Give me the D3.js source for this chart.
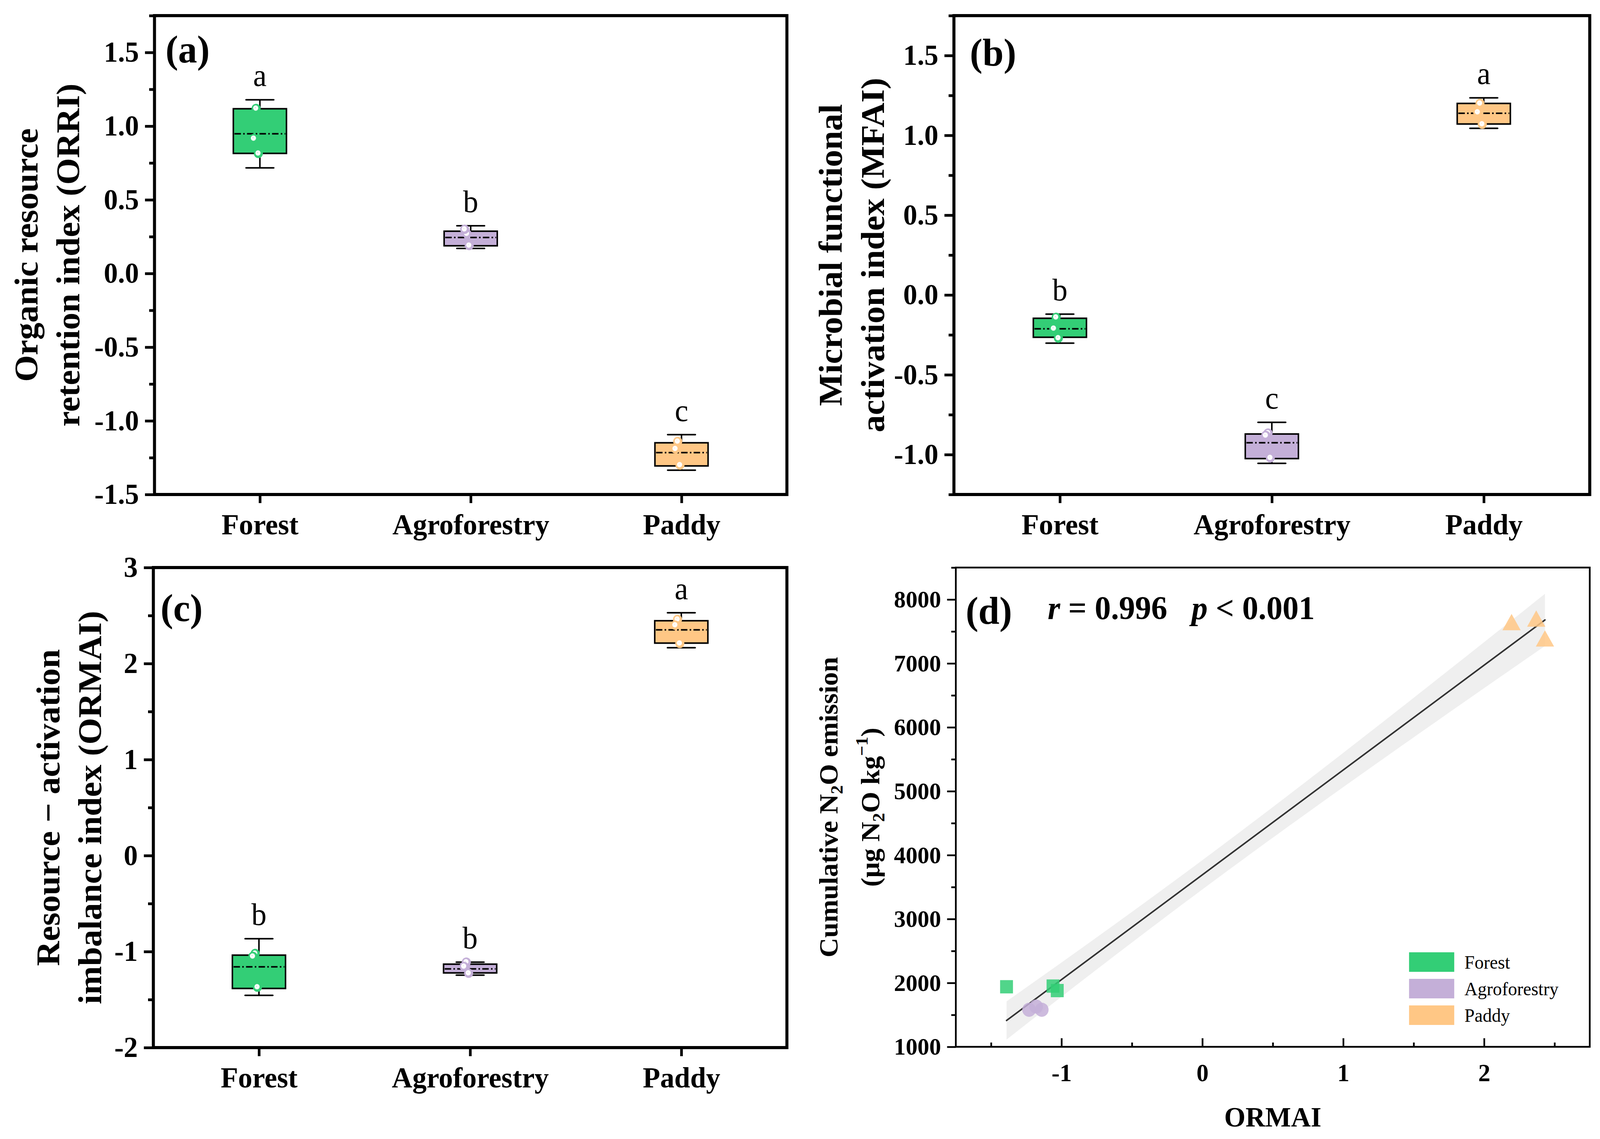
<!DOCTYPE html>
<html><head><meta charset="utf-8">
<script src="https://cdn.jsdelivr.net/npm/d3@7"></script>
<style>
html,body{margin:0;padding:0;background:#fff;overflow:hidden;width:100%;height:100%;}
svg{display:block;width:100vw;height:100vh;}
text{font-family:"Liberation Serif","Times New Roman",serif;}
</style>
</head><body>
<svg id="chart" viewBox="0 0 4215 2916" preserveAspectRatio="none"></svg>
<script>
// ---------------- DATA ----------------
const categories = ["Forest", "Agroforestry", "Paddy"];
const groupColors = ["#33CE76", "#C4AFD8", "#FFC785"];

// (a) Organic resource retention index (ORRI)
const orriWhiskerLow  = [0.717, 0.170, -1.335];
const orriQ1          = [0.815, 0.188, -1.306];
const orriCenter      = [0.948, 0.244, -1.216];
const orriQ3          = [1.118, 0.287, -1.149];
const orriWhiskerHigh = [1.179, 0.324, -1.094];
const orriPoints      = [[1.12, 0.916, 0.815], [0.27, 0.30, 0.19], [-1.14, -1.19, -1.30]];
const orriLetters     = ["a", "b", "c"];
const orriTicks       = [-1.5, -1.0, -0.5, 0.0, 0.5, 1.0, 1.5];
const orriTickLabels  = ["-1.5", "-1.0", "-0.5", "0.0", "0.5", "1.0", "1.5"];
const orriMinorTicks  = [-1.25, -0.75, -0.25, 0.25, 0.75, 1.25, 1.75];

// (b) Microbial functional activation index (MFAI)
const mfaiWhiskerLow  = [-0.302, -1.055, 1.044];
const mfaiQ1          = [-0.265, -1.025, 1.071];
const mfaiCenter      = [-0.212, -0.926, 1.138];
const mfaiQ3          = [-0.146, -0.871, 1.200];
const mfaiWhiskerHigh = [-0.120, -0.798, 1.235];
const mfaiPoints      = [[-0.14, -0.21, -0.27], [-0.865, -0.88, -1.02], [1.20, 1.145, 1.07]];
const mfaiLetters     = ["b", "c", "a"];
const mfaiTicks       = [-1.0, -0.5, 0.0, 0.5, 1.0, 1.5];
const mfaiTickLabels  = ["-1.0", "-0.5", "0.0", "0.5", "1.0", "1.5"];
const mfaiMinorTicks  = [-1.25, -0.75, -0.25, 0.25, 0.75, 1.25, 1.75];

// (c) Resource - activation imbalance index (ORMAI)
const ormaiWhiskerLow  = [-1.456, -1.245, 2.165];
const ormaiQ1          = [-1.384, -1.222, 2.213];
const ormaiCenter      = [-1.159, -1.180, 2.351];
const ormaiQ3          = [-1.037, -1.131, 2.446];
const ormaiWhiskerHigh = [-0.866, -1.110, 2.529];
const ormaiPoints      = [[-1.02, -1.05, -1.37], [-1.11, -1.155, -1.225], [2.46, 2.40, 2.21]];
const ormaiLetters     = ["b", "b", "a"];
const ormaiTicks       = [-2, -1, 0, 1, 2, 3];
const ormaiTickLabels  = ["-2", "-1", "0", "1", "2", "3"];
const ormaiMinorTicks  = [-1.5, -0.5, 0.5, 1.5, 2.5];

// (d) ORMAI vs cumulative N2O emission
const scatterX = [[-1.39, -1.06, -1.03], [-1.23, -1.18, -1.14], [2.195, 2.37, 2.432]];
const scatterY = [[1940, 1950, 1880], [1580, 1630, 1580], [7604, 7659, 7348]];
const dXTicks = [-1, 0, 1, 2];
const dXTickLabels = ["-1", "0", "1", "2"];
const dXMinor = [-1.5, -0.5, 0.5, 1.5, 2.5];
const dYTicks = [1000, 2000, 3000, 4000, 5000, 6000, 7000, 8000];
const dYTickLabels = ["1000", "2000", "3000", "4000", "5000", "6000", "7000", "8000"];
const dYMinor = [1500, 2500, 3500, 4500, 5500, 6500, 7500, 8500];
const statText = { r: "0.996", p: "0.001" };

// ---------------- DRAWING ----------------
const svg = d3.select("#chart");
svg.append("rect").attr("width", 4215).attr("height", 2916).attr("fill", "#fff");

const defs = svg.append("defs");
groupColors.forEach((c, i) => {
  const rg = defs.append("radialGradient").attr("id", "pt" + i)
    .attr("cx", "0.5").attr("cy", "0.5").attr("r", "0.5").attr("fx", "0.4").attr("fy", "0.4");
  rg.append("stop").attr("offset", "0").attr("stop-color", d3.interpolateRgb(c, "#fff")(0.55));
  rg.append("stop").attr("offset", "0.2").attr("stop-color", "#fff");
  rg.append("stop").attr("offset", "0.5").attr("stop-color", "#fff");
  rg.append("stop").attr("offset", "0.62").attr("stop-color", c);
  rg.append("stop").attr("offset", "1").attr("stop-color", c);
});

const jitter = [-10, -16, -4];

function styleAxisText(g, size) {
  g.attr("font-family", null).attr("font-size", null);
  g.selectAll("text").attr("font-size", size).attr("font-weight", "bold").attr("fill", "#000");
}

function boxPanel(cfg, d) {
  const g = svg.append("g");
  const x = d3.scalePoint().domain(categories).range([cfg.left, cfg.right]).padding(0.5);
  const y = d3.scaleLinear().domain(cfg.domain).range([cfg.bottom, cfg.top]);

  const ya = g.append("g").attr("transform", `translate(${cfg.left},0)`)
    .call(d3.axisLeft(y).tickValues(d.ticks).tickFormat((v, i) => d.tickLabels[i]).tickSize(25).tickPadding(16));
  ya.select(".domain").remove();
  ya.selectAll("line").attr("stroke", "#000").attr("stroke-width", 7);
  styleAxisText(ya, 74);
  const ym = g.append("g").attr("transform", `translate(${cfg.left},0)`)
    .call(d3.axisLeft(y).tickValues(d.minor).tickFormat("").tickSize(14));
  ym.select(".domain").remove();
  ym.selectAll("line").attr("stroke", "#000").attr("stroke-width", 7);

  const xa = g.append("g").attr("transform", `translate(0,${cfg.bottom})`)
    .call(d3.axisBottom(x).tickSize(22));
  xa.select(".domain").remove();
  xa.selectAll("line").attr("stroke", "#000").attr("stroke-width", 7);
  styleAxisText(xa, 75);
  xa.selectAll("text").attr("dy", null).attr("y", 102);

  g.append("rect").attr("x", cfg.left).attr("y", cfg.top)
    .attr("width", cfg.right - cfg.left).attr("height", cfg.bottom - cfg.top)
    .attr("fill", "none").attr("stroke", "#000").attr("stroke-width", 8);

  const bw = 140, cw = 73;
  categories.forEach((cat, i) => {
    const cx = x(cat);
    const gg = g.append("g");
    gg.append("line").attr("x1", cx).attr("x2", cx).attr("y1", y(d.q3[i])).attr("y2", y(d.hi[i]))
      .attr("stroke", "#000").attr("stroke-width", 4);
    gg.append("line").attr("x1", cx).attr("x2", cx).attr("y1", y(d.q1[i])).attr("y2", y(d.lo[i]))
      .attr("stroke", "#000").attr("stroke-width", 4);
    gg.append("line").attr("x1", cx - cw / 2).attr("x2", cx + cw / 2).attr("y1", y(d.hi[i])).attr("y2", y(d.hi[i]))
      .attr("stroke", "#000").attr("stroke-width", 4).attr("stroke-linecap", "round");
    gg.append("line").attr("x1", cx - cw / 2).attr("x2", cx + cw / 2).attr("y1", y(d.lo[i])).attr("y2", y(d.lo[i]))
      .attr("stroke", "#000").attr("stroke-width", 4).attr("stroke-linecap", "round");
    gg.append("rect").attr("x", cx - bw / 2).attr("y", y(d.q3[i]))
      .attr("width", bw).attr("height", y(d.q1[i]) - y(d.q3[i]))
      .attr("fill", groupColors[i]).attr("stroke", "#000").attr("stroke-width", 4);
    gg.append("line").attr("x1", cx - bw / 2 + 3).attr("x2", cx + bw / 2 - 3)
      .attr("y1", y(d.center[i])).attr("y2", y(d.center[i]))
      .attr("stroke", "#000").attr("stroke-width", 4).attr("stroke-dasharray", "17 6 4 6");
    d.points[i].forEach((v, j) => {
      gg.append("circle").attr("cx", cx + jitter[j]).attr("cy", y(v)).attr("r", 12)
        .attr("fill", `url(#pt${i})`);
    });
    g.append("text").attr("x", cx).attr("y", y(d.hi[i]) - 35)
      .attr("text-anchor", "middle").attr("font-size", 80).attr("fill", "#000").text(d.letters[i]);
  });

  g.append("text").attr("x", cfg.labelX).attr("y", cfg.labelY)
    .attr("font-size", 100).attr("font-weight", "bold").text(cfg.label);

  const cy = (cfg.top + cfg.bottom) / 2;
  cfg.title.forEach((t, k) => {
    g.append("text").attr("transform", `translate(${cfg.left + cfg.titleOff[k]},${cy}) rotate(-90)`)
      .attr("text-anchor", "middle").attr("font-size", 88).attr("font-weight", "bold").text(t);
  });
}

boxPanel(
  { left: 407, right: 2073, top: 40, bottom: 1266, domain: [-1.5, 1.75], label: "(a)", labelX: 436, labelY: 160,
    title: ["Organic resource", "retention index (ORRI)"], titleOff: [-308, -198] },
  { lo: orriWhiskerLow, q1: orriQ1, center: orriCenter, q3: orriQ3, hi: orriWhiskerHigh, points: orriPoints,
    letters: orriLetters, ticks: orriTicks, tickLabels: orriTickLabels, minor: orriMinorTicks });

boxPanel(
  { left: 2513, right: 4188, top: 40, bottom: 1266, domain: [-1.25, 1.75], label: "(b)", labelX: 2555, labelY: 168,
    title: ["Microbial functional", "activation index (MFAI)"], titleOff: [-295, -184] },
  { lo: mfaiWhiskerLow, q1: mfaiQ1, center: mfaiCenter, q3: mfaiQ3, hi: mfaiWhiskerHigh, points: mfaiPoints,
    letters: mfaiLetters, ticks: mfaiTicks, tickLabels: mfaiTickLabels, minor: mfaiMinorTicks });

boxPanel(
  { left: 404, right: 2073, top: 1453, bottom: 2682, domain: [-2, 3], label: "(c)", labelX: 423, labelY: 1590,
    title: ["Resource \u2212 activation", "imbalance index (ORMAI)"], titleOff: [-248, -137] },
  { lo: ormaiWhiskerLow, q1: ormaiQ1, center: ormaiCenter, q3: ormaiQ3, hi: ormaiWhiskerHigh, points: ormaiPoints,
    letters: ormaiLetters, ticks: ormaiTicks, tickLabels: ormaiTickLabels, minor: ormaiMinorTicks });

// ---------------- Panel (d) ----------------
(function () {
  const L = 2518, R = 4188, T = 1453, B = 2680;
  const g = svg.append("g");
  const x = d3.scaleLinear().domain([-1.75, 2.75]).range([L, R]);
  const y = d3.scaleLinear().domain([1000, 8500]).range([B, T]);

  const xs = scatterX.flat(), ys = scatterY.flat(), n = xs.length;
  const mx = d3.mean(xs), my = d3.mean(ys);
  const sxx = d3.sum(xs, v => (v - mx) ** 2);
  const sxy = d3.sum(xs.map((v, i) => (v - mx) * (ys[i] - my)));
  const slope = sxy / sxx, icpt = my - slope * mx;
  const sse = d3.sum(xs.map((v, i) => (ys[i] - (icpt + slope * v)) ** 2));
  const s = Math.sqrt(sse / (n - 2));
  const tval = 2.365;
  const [x0, x1] = d3.extent(xs);
  const samples = d3.range(0, 61).map(k => x0 + (x1 - x0) * k / 60);
  const half = v => tval * s * Math.sqrt(1 / n + (v - mx) ** 2 / sxx);
  g.append("path").datum(samples)
    .attr("d", d3.area().x(v => x(v)).y0(v => y(icpt + slope * v - half(v))).y1(v => y(icpt + slope * v + half(v))))
    .attr("fill", "#efefef");
  g.append("line").attr("x1", x(x0)).attr("y1", y(icpt + slope * x0))
    .attr("x2", x(x1)).attr("y2", y(icpt + slope * x1))
    .attr("stroke", "#333").attr("stroke-width", 4).attr("stroke-linecap", "round");

  const shapes = [d3.symbolSquare, d3.symbolCircle, d3.symbolTriangle];
  const sizes = [1150, 1020, 1000];
  categories.forEach((cat, i) => {
    scatterX[i].forEach((xv, j) => {
      g.append("path").attr("d", d3.symbol().type(shapes[i]).size(sizes[i])())
        .attr("transform", `translate(${x(xv)},${y(scatterY[i][j])})`)
        .attr("fill", groupColors[i]).attr("fill-opacity", 0.85);
    });
  });

  const ya = g.append("g").attr("transform", `translate(${L},0)`)
    .call(d3.axisLeft(y).tickValues(dYTicks).tickFormat((v, i) => dYTickLabels[i]).tickSize(23).tickPadding(16));
  ya.select(".domain").remove();
  ya.selectAll("line").attr("stroke", "#000").attr("stroke-width", 4.5);
  styleAxisText(ya, 62);
  const ym = g.append("g").attr("transform", `translate(${L},0)`)
    .call(d3.axisLeft(y).tickValues(dYMinor).tickFormat("").tickSize(12));
  ym.select(".domain").remove();
  ym.selectAll("line").attr("stroke", "#000").attr("stroke-width", 4.5);

  const xa = g.append("g").attr("transform", `translate(0,${B})`)
    .call(d3.axisBottom(x).tickValues(dXTicks).tickFormat((v, i) => dXTickLabels[i]).tickSize(-22));
  xa.select(".domain").remove();
  xa.selectAll("line").attr("stroke", "#000").attr("stroke-width", 4.5);
  styleAxisText(xa, 64);
  xa.selectAll("text").attr("dy", null).attr("y", 88);
  const xm = g.append("g").attr("transform", `translate(0,${B})`)
    .call(d3.axisBottom(x).tickValues(dXMinor).tickFormat("").tickSize(-11));
  xm.select(".domain").remove();
  xm.selectAll("line").attr("stroke", "#000").attr("stroke-width", 4.5);

  g.append("rect").attr("x", L).attr("y", T).attr("width", R - L).attr("height", B - T)
    .attr("fill", "none").attr("stroke", "#000").attr("stroke-width", 4.5);

  categories.forEach((cat, i) => {
    const ly = B - 242 + i * 68;
    g.append("rect").attr("x", R - 476).attr("y", ly).attr("width", 119).attr("height", 50).attr("fill", groupColors[i]);
    g.append("text").attr("x", R - 330).attr("y", ly + 42).attr("font-size", 48).text(cat);
  });

  g.append("text").attr("x", L + 26).attr("y", 1597).attr("font-size", 100).attr("font-weight", "bold").text("(d)");
  const st = g.append("text").attr("x", L + 242).attr("y", 1585).attr("font-size", 85).attr("font-weight", "bold")
    .style("white-space", "pre");
  st.append("tspan").attr("font-style", "italic").text("r");
  st.append("tspan").text(" = " + statText.r + "   ");
  st.append("tspan").attr("font-style", "italic").text("p");
  st.append("tspan").text(" < " + statText.p);

  g.append("text").attr("x", (L + R) / 2).attr("y", B + 204).attr("text-anchor", "middle")
    .attr("font-size", 72).attr("font-weight", "bold").text("ORMAI");

  const cy = (T + B) / 2;
  const t1 = g.append("text").attr("transform", `translate(${L - 312},${cy}) rotate(-90)`)
    .attr("text-anchor", "middle").attr("font-size", 70).attr("font-weight", "bold");
  t1.append("tspan").text("Cumulative N");
  t1.append("tspan").attr("font-size", 46).attr("dy", 14).text("2");
  t1.append("tspan").attr("dy", -14).text("O emission");
  const t2 = g.append("text").attr("transform", `translate(${L - 202},${cy}) rotate(-90)`)
    .attr("text-anchor", "middle").attr("font-size", 70).attr("font-weight", "bold");
  t2.append("tspan").text("(\u03bcg N");
  t2.append("tspan").attr("font-size", 46).attr("dy", 14).text("2");
  t2.append("tspan").attr("dy", -14).text("O kg");
  t2.append("tspan").attr("font-size", 46).attr("dy", -30).text("\u22121");
  t2.append("tspan").attr("dy", 30).text(")");
})();
</script>
</body></html>
